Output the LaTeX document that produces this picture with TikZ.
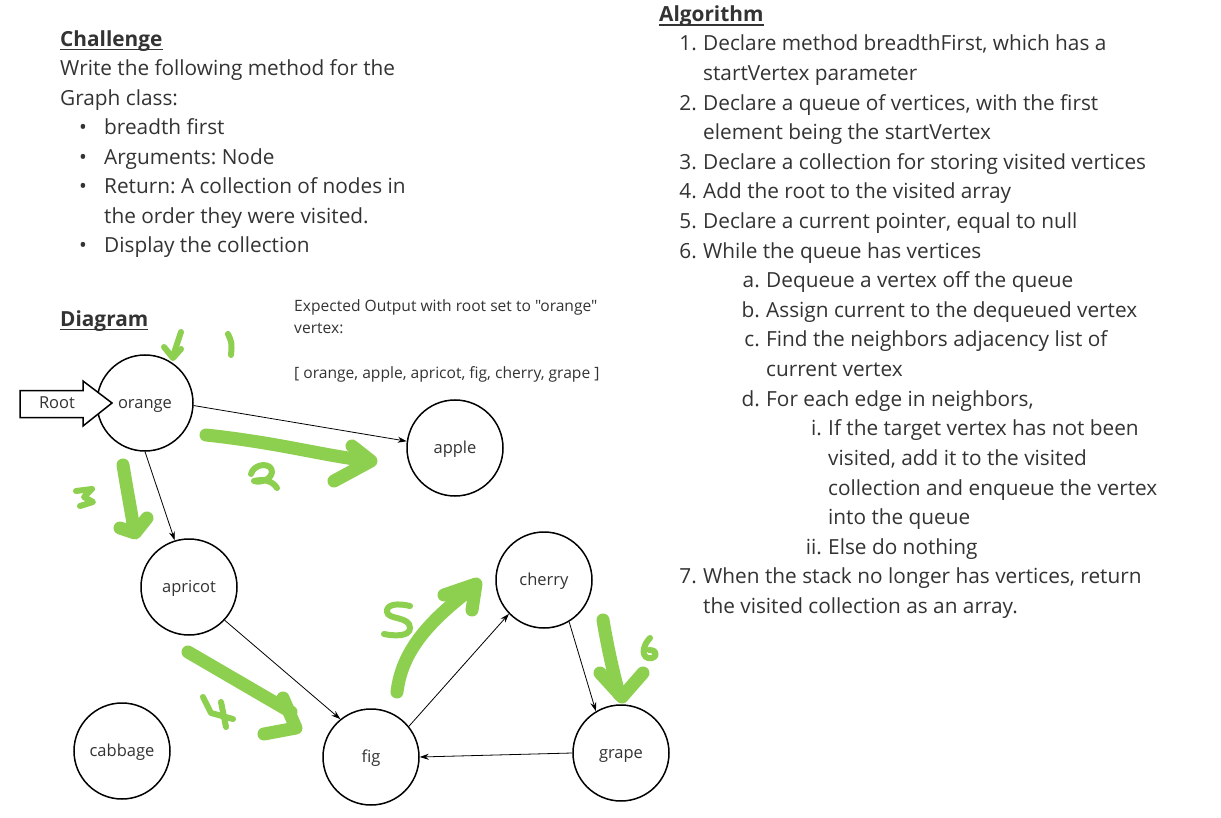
\documentclass[tikz,border=0pt]{standalone}
\usepackage{fontspec}
\setmainfont{Open Sans}
\newfontfamily\rawfont{Open Sans}[Ligatures=TeXOff]
\usetikzlibrary{arrows.meta}
\definecolor{txt}{HTML}{333333}
\definecolor{marker}{HTML}{8DCF4E}
\frenchspacing
\tikzset{
  body/.style={anchor=base west, inner sep=0pt, font=\fontsize{20.8}{25}\selectfont, text=txt},
  num/.style={anchor=base east, inner sep=0pt, font=\fontsize{20.8}{25}\selectfont, text=txt},
  bul/.style={anchor=base, inner sep=0pt, font=\fontsize{20.8}{25}\selectfont, text=txt},
  head/.style={anchor=base west, inner sep=0pt, font=\fontsize{20.8}{25}\selectfont\bfseries, text=txt},
  small/.style={anchor=base west, inner sep=0pt, font=\rawfont\fontsize{15.6}{18}\selectfont, text=txt},
  vertex/.style={circle, draw=black, line width=1.5pt, minimum size=96pt, inner sep=0pt, font=\fontsize{16.5}{20}\selectfont, text=txt, text height=13pt, text depth=2.5pt},
  edge/.style={line width=0.8pt, -{Stealth[length=9pt,width=6pt]}},
  uline/.style={line width=1.8pt, draw=txt},
  hand/.style={draw=marker, line width=13pt, line cap=round, line join=round},
  handthin/.style={draw=marker, line width=6pt, line cap=round, line join=round},
}
\begin{document}
\begin{tikzpicture}[x=1pt,y=-1pt]
\useasboundingbox (0,0) rectangle (1221,818);
\fill[white] (0,0) rectangle (1221,818);

% ---------- Challenge ----------
\node[head] (chal) at (60,46.5) {Challenge};
\draw[uline] ([yshift=-3pt]chal.base west) -- ([yshift=-3pt]chal.base east);
\node[body] (c1) at (60,76) {Write the following method for the};
\node[body] (c2) at (60,105.5) {Graph class:};
\node[bul] (b1) at (83,135) {•};
\node[body] (c3) at (104,135) {breadth first};
\node[bul] (b2) at (83,164.5) {•};
\node[body] (c4) at (104,164.5) {Arguments: Node};
\node[bul] (b3) at (83,194) {•};
\node[body] (c5) at (104,194) {Return: A collection of nodes in};
\node[body] (c6) at (104,223.5) {the order they were visited.};
\node[bul] (b4) at (83,253) {•};
\node[body] (c7) at (104,253) {Display the collection};

% ---------- Diagram title ----------
\node[head] (diag) at (60,326.5) {Diagram};
\draw[uline] ([yshift=-3pt]diag.base west) -- ([yshift=-3pt]diag.base east);

% ---------- Expected output ----------
\node[small] (e1) at (294,312) {Expected Output with root set to "orange"};
\node[small] (e2) at (294,334) {vertex:};
\node[small] (e3) at (294,378) {[ orange, apple, apricot, fig, cherry, grape ]};

% ---------- Algorithm ----------
\node[head] (alg) at (659,22) {Algorithm};
\draw[uline] ([yshift=-3pt]alg.base west) -- ([yshift=-3pt]alg.base east);
\node[num] (n1) at (697,51) {1.};
\node[body] (a1) at (703,51) {Declare method breadthFirst, which has a};
\node[body] (a1b) at (703,80.6) {startVertex parameter};
\node[num] (n2) at (697,110.2) {2.};
\node[body] (a2) at (703,110.2) {Declare a queue of vertices, with the first};
\node[body] (a2b) at (703,139.8) {element being the startVertex};
\node[num] (n3) at (697,169.4) {3.};
\node[body] (a3) at (703,169.4) {Declare a collection for storing visited vertices};
\node[num] (n4) at (697,199) {4.};
\node[body] (a4) at (703,199) {Add the root to the visited array};
\node[num] (n5) at (697,228.6) {5.};
\node[body] (a5) at (703,228.6) {Declare a current pointer, equal to null};
\node[num] (n6) at (697,258.2) {6.};
\node[body] (a6) at (703,258.2) {While the queue has vertices};
\node[num] (na) at (760,287.8) {a.};
\node[body] (aa) at (766,287.8) {Dequeue a vertex off the queue};
\node[num] (nb) at (760,317.4) {b.};
\node[body] (ab) at (766,317.4) {Assign current to the dequeued vertex};
\node[num] (nc) at (760,347) {c.};
\node[body] (ac) at (766,347) {Find the neighbors adjacency list of};
\node[body] (acb) at (766,376.6) {current vertex};
\node[num] (nd) at (760,406.2) {d.};
\node[body] (ad) at (766,406.2) {For each edge in neighbors,};
\node[num] (ni) at (822,435.8) {i.};
\node[body] (ai) at (828,435.8) {If the target vertex has not been};
\node[body] (ai2) at (828,465.4) {visited, add it to the visited};
\node[body] (ai3) at (828,495) {collection and enqueue the vertex};
\node[body] (ai4) at (828,524.6) {into the queue};
\node[num] (nii) at (822,554.2) {ii.};
\node[body] (aii) at (828,554.2) {Else do nothing};
\node[num] (n7) at (697,583.8) {7.};
\node[body] (a7) at (703,583.8) {When the stack no longer has vertices, return};
\node[body] (a7b) at (703,613.4) {the visited collection as an array.};

% ---------- Graph ----------
\node[vertex] (orange) at (145,403) {orange};
\node[vertex] (apple) at (455,448) {apple};
\node[vertex] (apricot) at (189,587) {apricot};
\node[vertex] (cherry) at (544,580) {cherry};
\node[vertex] (cabbage) at (122,751) {cabbage};
\node[vertex] (fig) at (371,757) {fig};
\node[vertex] (grape) at (621,753) {grape};

\draw[edge] (orange.-3) -- (apple.172);
\draw[edge] (orange.south) -- (apricot.107);
\draw[edge] (apricot.-43) -- (fig.129);
\draw[edge] (fig.39) -- (cherry.-136);
\draw[edge] (cherry.-59) -- (grape.121);
\draw[edge] (grape.west) -- (fig.east);

% Root block arrow
\coordinate (rtip) at (112,403);
\draw[line width=1.5pt, fill=white, line join=miter] (20,390.5) -- (83,390.5) -- (83,381) -- (rtip) -- (83,426) -- (83,417.5) -- (20,417.5) -- cycle;
\node[inner sep=0pt, font=\fontsize{16.5}{20}\selectfont, text=txt, text height=13pt, text depth=2.5pt] (root) at (57,403) {Root};

% ---------- Green handwritten marks ----------
% 1
\draw[handthin] (181,332) -- (173,356);
\draw[handthin] (164,347) -- (173,358) -- (181,349);
\draw[handthin] (228,334) .. controls (232,343) .. (231,355);
% 2
\draw[hand] (206,435) .. controls (280,443) and (320,455) .. (369,461);
\draw[hand] (352,446) -- (371,461) -- (334,481);
\draw[handthin] (251,474) .. controls (254,463) and (272,462) .. (272,472) .. controls (271,480) and (260,483) .. (254,481) .. controls (262,479) and (272,480) .. (277,488);
% 3
\draw[hand] (123,465) .. controls (127,490) and (131,510) .. (134,530);
\draw[hand] (120,528) -- (135,533) -- (147,518);
\draw[handthin] (76,491) -- (92,489) -- (84,497) -- (93,502) -- (80,506);
% 4
\draw[hand] (188,652) -- (291,712);
\draw[hand] (283,698) -- (296,728) -- (264,734);
\draw[handthin] (203,697) -- (211,713) -- (233,719);
\draw[handthin] (221,702) -- (226,727);
% 5
\draw[hand] (397,692) .. controls (402,650) and (430,620) .. (475,586);
\draw[hand] (444,595) -- (476,584) -- (472,610);
\draw[handthin] (410,606) .. controls (398,603) and (386,604) .. (387,612) .. controls (388,620) and (410,616) .. (410,628) .. controls (410,637) and (393,636) .. (384,634);
% 6
\draw[hand] (603,620) .. controls (608,650) and (614,675) .. (619,694);
\draw[hand] (600,673) -- (622,697) -- (643,673);
\draw[handthin] (650,638) .. controls (643,645) and (641,656) .. (648,658) .. controls (656,660) and (660,650) .. (649,650);
\end{tikzpicture}
\end{document}
